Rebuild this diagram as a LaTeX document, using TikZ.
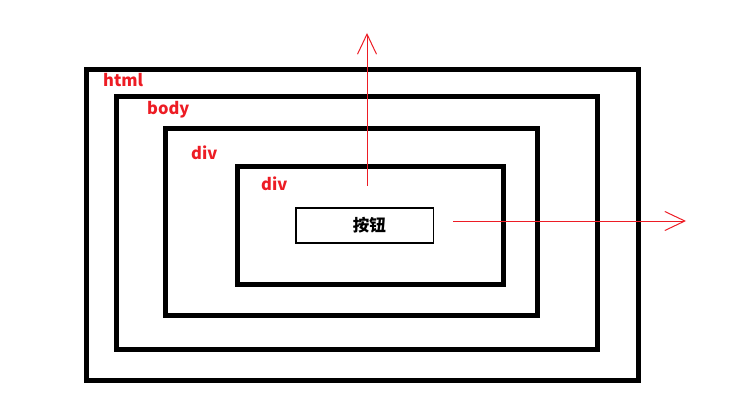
\documentclass[tikz,border=0pt]{standalone}
\usepackage{fontspec}
\newfontfamily\cjk{Noto Sans CJK SC}
\usetikzlibrary{arrows.meta,positioning}
\definecolor{tagred}{RGB}{237,28,36}

\begin{document}
\begin{tikzpicture}[x=1pt,y=-1pt,inner sep=0pt,
                    >={Straight Barb[length=20pt,width=19pt]}]
  \tikzstyle{layer}=[draw=black,line width=5pt,fill=none]
  \tikzstyle{tag}=[text=tagred,anchor=base west,font=\cjk\bfseries\fontsize{16.5}{16.5}\selectfont]
  \tikzstyle{pointer}=[->,draw=tagred,line width=1pt]

  \useasboundingbox (0,0) rectangle (742,417);

  \node[layer,minimum width=552pt,minimum height=310pt] (html) at (362,225) {};
  \node[layer,minimum width=481pt,minimum height=253pt] (body) at (357,223) {};
  \node[layer,minimum width=372pt,minimum height=187pt] (outerdiv) at (351.5,222) {};
  \node[layer,minimum width=266pt,minimum height=118pt] (innerdiv) at (370.5,225.5) {};
  \node[draw=black,line width=1.2pt,minimum width=137.5pt,minimum height=35pt,
        font=\cjk\bfseries\fontsize{16.5}{16.5}\selectfont] (button) at (364.75,225.5) {\hspace*{9pt}按钮};

  \node[tag] (htmltag) at (103,87) {html};
  \node[tag] (bodytag) at (147,115) {body};
  \node[tag] (outerdivtag) at (191,160) {div};
  \node[tag] (innerdivtag) at (261,190) {div};

  \coordinate (upstart) at (367,186);
  \coordinate (uptip) at (367,33);
  \coordinate (rightstart) at (453,221);
  \coordinate (righttip) at (686,221);

  \draw[pointer] (upstart) -- (uptip);
  \draw[pointer] (rightstart) -- (righttip);
\end{tikzpicture}
\end{document}
